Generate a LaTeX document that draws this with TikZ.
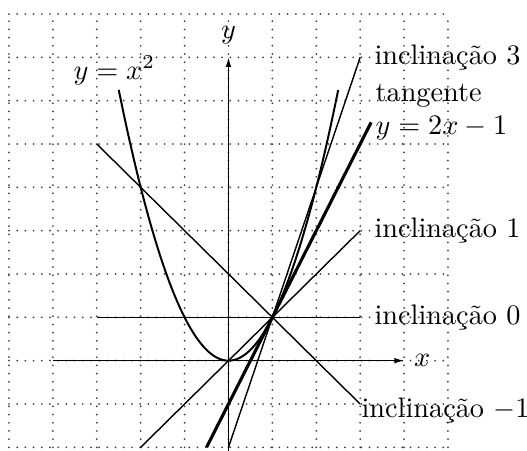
\documentclass[tikz,border=0pt]{standalone}
\usepackage{fontspec}
\usetikzlibrary{arrows.meta}
\begin{document}
\begin{tikzpicture}[x=0.546cm,y=0.539cm,
  griddots/.style={line width=0.7pt, line cap=round, dash pattern=on 0pt off 2.9pt, black!75},
  axisline/.style={line width=0.5pt,-{Latex[length=3.4pt,width=2pt]}},
  ln/.style={line width=0.5pt},
  tanline/.style={line width=1.1pt},
  parab/.style={line width=0.7pt},
  lab/.style={anchor=west, inner sep=0pt, xshift=4.9pt}]
\useasboundingbox (-5.205,-2.069) rectangle (6.80,8.323);
\draw[griddots, step={(1,1)}] (-5,-2) grid (5,8);
% axes
\coordinate (xa) at (-4,0); \coordinate (xb) at (4,0);
\coordinate (ya) at (0,-2.1); \coordinate (yb) at (0,7);
\draw[axisline] (xa) -- (xb);
\draw[axisline] (ya) -- (yb);
\node (xl) [right] at (xb) {$x$};
\node (yl) [above, yshift=1.2pt] at (yb) {$y$};
% parabola
\draw[parab] plot[domain=-2.5:2.5, samples=100] (\x,{\x*\x});
\node (pl) [anchor=base west, inner sep=0pt] at (-3.54,6.50) {$y=x^2$};
% lines through (1,1)
\coordinate (s0a) at (-3,1); \coordinate (s0b) at (3,1);
\coordinate (s1a) at (-2,-2); \coordinate (s1b) at (3,3);
\coordinate (smA) at (-3,5); \coordinate (smB) at (3,-1);
\coordinate (s3a) at (0,-2); \coordinate (s3b) at (3,7);
\coordinate (sta) at (-0.5,-2); \coordinate (stb) at (3.25,5.5);
\draw[ln] (s0a) -- (s0b);
\draw[ln] (s1a) -- (s1b);
\draw[ln] (smA) -- (smB);
\draw[ln] (s3a) -- (s3b);
\draw[tanline] (sta) -- (stb);
\node (l0) [lab] at (s0b) {inclinação 0};
\node (l1) [lab] at (s1b) {inclinação 1};
\node (l3) [lab] at (s3b) {inclinação 3};
\node (lm) [anchor=west, inner sep=0pt, xshift=0.3pt, yshift=-2.2pt] at (smB) {inclinação $-1$};
\node (lt) [anchor=base west, inner sep=0pt] at (3.34,5.23) {\shortstack[l]{tangente\\$y=2x-1$}};
\end{tikzpicture}
\end{document}
